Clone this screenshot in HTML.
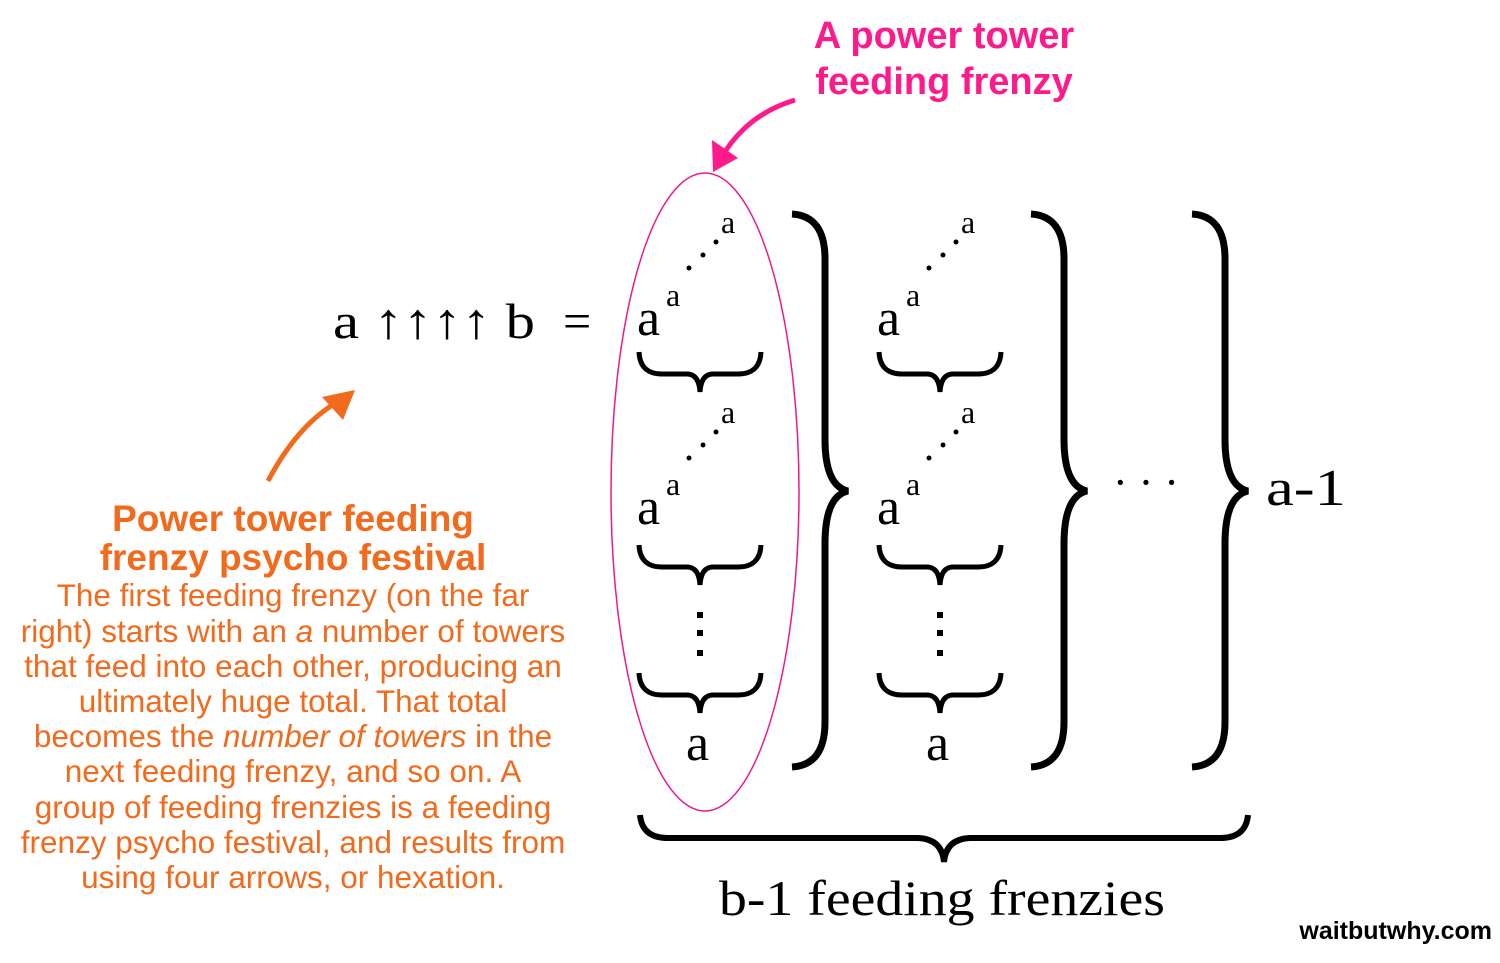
<!DOCTYPE html>
<html><head><meta charset="utf-8"><style>
body{margin:0;background:#fff;width:1500px;height:958px;overflow:hidden}
svg text{font-family:"Liberation Serif",serif}
svg text.s, svg .s text{font-family:"Liberation Sans",sans-serif}
</style></head><body>
<svg width="1500" height="958" viewBox="0 0 1500 958" xmlns="http://www.w3.org/2000/svg">
<defs>
<g id="col">
  <text x="637" y="335" font-size="52">a</text>
  <text x="666" y="306" font-size="32">a</text>
  <circle cx="689" cy="268" r="2.5"/><circle cx="703" cy="255" r="2.5"/><circle cx="716" cy="242" r="2.5"/>
  <text x="721" y="233" font-size="32">a</text>
  <path d="M639,352 Q640,374 662,374 L688,374 Q699,375 700,392 Q701,375 712,374 L738,374 Q760,374 761,352" fill="none" stroke="#000" stroke-width="5"/>
  <text x="637" y="524" font-size="52">a</text>
  <text x="666" y="495" font-size="32">a</text>
  <circle cx="689" cy="458" r="2.5"/><circle cx="703" cy="445" r="2.5"/><circle cx="716" cy="432" r="2.5"/>
  <text x="721" y="423" font-size="32">a</text>
  <path d="M639,545 Q640,567 662,567 L688,567 Q699,568 700,585 Q701,568 712,567 L738,567 Q760,567 761,545" fill="none" stroke="#000" stroke-width="5"/>
  <rect x="697" y="612" width="6" height="6"/><rect x="697" y="630" width="6" height="6"/><rect x="697" y="650" width="6" height="6"/>
  <path d="M639,673 Q640,695 662,695 L688,695 Q699,696 700,713 Q701,696 712,695 L738,695 Q760,695 761,673" fill="none" stroke="#000" stroke-width="5"/>
  <text x="686" y="760" font-size="52">a</text>
</g>
<path id="rb" d="M0,0 Q33,2 33,45 L33,225 Q33,272 56,277 Q33,282 33,330 L33,508 Q33,551 0,553" fill="none" stroke="#000" stroke-width="7"/>
</defs>
<text x="333" y="338" font-size="50" textLength="202" lengthAdjust="spacingAndGlyphs">a ↑↑↑↑ b</text>
<text x="563" y="338" font-size="50">=</text>
<use href="#col"/>
<use href="#col" transform="translate(240,0)"/>
<use href="#rb" transform="translate(792,214)"/>
<use href="#rb" transform="translate(1031,214)"/>
<use href="#rb" transform="translate(1192,214)"/>
<text x="1113" y="497" font-size="44">· · ·</text>
<text x="1266" y="505" font-size="52" textLength="80" lengthAdjust="spacingAndGlyphs">a-1</text>
<ellipse cx="705" cy="492" rx="94" ry="319" fill="none" stroke="#ec1a8c" stroke-width="1.5"/>
<path d="M640,815 Q642,838 668,838 L918,838 Q942,839 944,862 Q946,839 970,838 L1220,838 Q1246,838 1248,815" fill="none" stroke="#000" stroke-width="6"/>
<text x="719" y="915" font-size="50" textLength="446" lengthAdjust="spacingAndGlyphs">b-1 feeding frenzies</text>
<text class="s" x="944" y="48" font-size="38" font-weight="bold" fill="#ff1a8c" text-anchor="middle">A power tower</text>
<text class="s" x="944" y="94" font-size="38" font-weight="bold" fill="#ff1a8c" text-anchor="middle">feeding frenzy</text>
<path d="M795,100 Q745,115 720,160" fill="none" stroke="#ff1a8c" stroke-width="5"/>
<path d="M713,172 L712,140 L738,158 Z" fill="#ff1a8c"/>
<path d="M268,481 Q300,420 345,398" fill="none" stroke="#f26a1b" stroke-width="5"/>
<path d="M355,390 L322,397 L343,420 Z" fill="#f26a1b"/>
<g class="s" fill="#f26a1b" text-anchor="middle">
<text x="293" y="531" font-size="37" font-weight="bold">Power tower feeding</text>
<text x="293" y="570" font-size="37" font-weight="bold">frenzy psycho festival</text>
<g font-size="31.5">
<text x="293" y="606">The first feeding frenzy (on the far</text>
<text x="293" y="642">right) starts with an <tspan font-style="italic">a</tspan> number of towers</text>
<text x="293" y="677">that feed into each other, producing an</text>
<text x="293" y="712">ultimately huge total. That total</text>
<text x="293" y="747">becomes the <tspan font-style="italic">number of towers</tspan> in the</text>
<text x="293" y="782">next feeding frenzy, and so on. A</text>
<text x="293" y="818">group of feeding frenzies is a feeding</text>
<text x="293" y="853">frenzy psycho festival, and results from</text>
<text x="293" y="888">using four arrows, or hexation.</text>
</g></g>
<text class="s" x="1492" y="939" font-size="25" font-weight="bold" text-anchor="end">waitbutwhy.com</text>
</svg>
</body></html>
